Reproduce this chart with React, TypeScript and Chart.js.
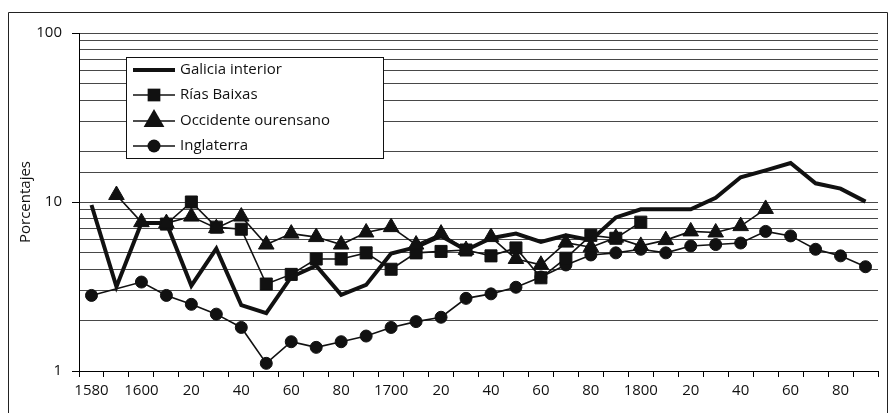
import React, { useEffect, useRef } from 'react';
import { Chart, registerables } from 'chart.js';

Chart.register(...registerables);

const years = [
  1580, 1590, 1600, 1610, 1620, 1630, 1640, 1650, 1660, 1670, 1680, 1690, 1700, 1710, 1720, 1730,
  1740, 1750, 1760, 1770, 1780, 1790, 1800, 1810, 1820, 1830, 1840, 1850, 1860, 1870, 1880, 1890,
];

const tickLabels = [
  '1580', '', '1600', '', '20', '', '40', '', '60', '', '80', '', '1700', '', '20', '',
  '40', '', '60', '', '80', '', '1800', '', '20', '', '40', '', '60', '', '80', '',
];

const yLabels = [1, 10, 100];

const galiciaInterior = [
  9.6, 3.15, 7.5, 7.5, 3.2, 5.3, 2.45, 2.2, 3.6, 4.2, 2.82, 3.23, 4.95, 5.4, 6.3, 5.2,
  6.1, 6.5, 5.8, 6.35, 5.95, 8.1, 9.05, 9.05, 9.05, 10.6, 14.0, 15.4, 17.0, 12.9, 12.0, 10.05,
];

const riasBaixas = [
  null, null, null, 7.4, 10.0, 7.1, 6.9, 3.27, 3.73, 4.6, 4.6, 5.0, 4.0, 5.0, 5.1, 5.2,
  4.8, 5.35, 3.56, 4.65, 6.35, 6.1, 7.6, null, null, null, null, null, null, null, null, null,
];

const occidenteOurensano = [
  null, 11.0, 7.6, 7.5, 8.2, 7.0, 8.2, 5.6, 6.5, 6.2, 5.6, 6.6, 7.1, 5.6, 6.5, 5.2,
  6.2, 4.6, 4.25, 5.75, 5.4, 6.15, 5.5, 5.95, 6.7, 6.6, 7.2, 9.1, null, null, null, null,
];

const inglaterra = [
  2.8, null, 3.36, 2.8, 2.48, 2.17, 1.81, 1.11, 1.49, 1.38, 1.49, 1.61, 1.81, 1.96, 2.08, 2.69,
  2.86, 3.13, 3.6, 4.24, 4.86, 5.0, 5.25, 5.0, 5.49, 5.6, 5.72, 6.7, 6.3, 5.25, 4.8, 4.14,
];

const FONT = '"Open Sans", sans-serif';
const INK = '#111';

function drawMarker(ctx: CanvasRenderingContext2D, style: string, x: number, y: number, r: number) {
  ctx.beginPath();
  if (style === 'rect') {
    const s = r * Math.SQRT1_2;
    ctx.rect(x - s, y - s, 2 * s, 2 * s);
  } else if (style === 'triangle') {
    let a = 0;
    ctx.moveTo(x + Math.sin(a) * r, y - Math.cos(a) * r);
    a += (2 * Math.PI) / 3;
    ctx.lineTo(x + Math.sin(a) * r, y - Math.cos(a) * r);
    a += (2 * Math.PI) / 3;
    ctx.lineTo(x + Math.sin(a) * r, y - Math.cos(a) * r);
    ctx.closePath();
  } else if (style === 'circle') {
    ctx.arc(x, y, r, 0, Math.PI * 2);
  }
  ctx.fill();
}

const framePlugin = {
  id: 'frame',
  afterDraw(chart: any) {
    const ctx = chart.ctx as CanvasRenderingContext2D;
    ctx.save();
    ctx.strokeStyle = '#222';
    ctx.lineWidth = 1;
    ctx.beginPath();
    ctx.moveTo(0.5, chart.height);
    ctx.lineTo(0.5, 4.5);
    ctx.lineTo(chart.width - 0.5, 4.5);
    ctx.lineTo(chart.width - 0.5, chart.height);
    ctx.stroke();
    ctx.restore();
  },
};

const boxLegendPlugin = {
  id: 'boxLegend',
  afterDraw(chart: any) {
    const ctx = chart.ctx as CanvasRenderingContext2D;
    const area = chart.chartArea;
    const left = area.left + 47;
    const top = area.top + 24;
    const w = 257;
    const h = 101;
    ctx.save();
    ctx.fillStyle = '#fff';
    ctx.fillRect(left, top, w, h);
    ctx.strokeStyle = INK;
    ctx.lineWidth = 1;
    ctx.strokeRect(left + 0.5, top + 0.5, w, h);
    const rows = [13, 38, 64, 89];
    const legendR: Record<string, number> = { rect: 9, triangle: 12, circle: 6.5 };
    chart.data.datasets.forEach((ds: any, i: number) => {
      const y = top + rows[i];
      ctx.strokeStyle = INK;
      ctx.fillStyle = INK;
      ctx.lineWidth = ds.borderWidth;
      ctx.beginPath();
      ctx.moveTo(left + 7, y);
      ctx.lineTo(left + 49, y);
      ctx.stroke();
      if (ds.pointRadius > 0) drawMarker(ctx, ds.pointStyle, left + 28, y, legendR[ds.pointStyle]);
      ctx.font = `15px ${FONT}`;
      ctx.textBaseline = 'middle';
      ctx.textAlign = 'left';
      ctx.fillText(ds.label, left + 54, y);
    });
    ctx.restore();
  },
};

export default function App() {
  const ref = useRef<HTMLCanvasElement>(null);

  useEffect(() => {
    if (!ref.current) return;
    const chart = new Chart(ref.current, {
      type: 'line',
      data: {
        labels: years,
        datasets: [
          {
            label: 'Galicia interior',
            data: galiciaInterior,
            borderColor: INK,
            backgroundColor: INK,
            borderWidth: 4,
            pointRadius: 0,
            pointStyle: 'circle',
            tension: 0,
            order: 1,
          },
          {
            label: 'Rías Baixas',
            data: riasBaixas,
            borderColor: INK,
            backgroundColor: INK,
            borderWidth: 1.6,
            pointStyle: 'rect',
            pointRadius: 8.5,
            pointBorderWidth: 1,
            tension: 0,
            order: 2,
          },
          {
            label: 'Occidente ourensano',
            data: occidenteOurensano,
            borderColor: INK,
            backgroundColor: INK,
            borderWidth: 1.6,
            pointStyle: 'triangle',
            pointRadius: 9,
            pointBorderWidth: 1,
            tension: 0,
            order: 0,
          },
          {
            label: 'Inglaterra',
            data: inglaterra,
            borderColor: INK,
            backgroundColor: INK,
            borderWidth: 1.6,
            pointStyle: 'circle',
            pointRadius: 6,
            pointBorderWidth: 1,
            tension: 0,
            spanGaps: true,
            order: 3,
          },
        ],
      },
      options: {
        responsive: false,
        animation: false,
        layout: { padding: { top: 25, right: 1, bottom: 0, left: 0 } },
        plugins: {
          legend: { display: false },
          tooltip: { enabled: false },
        },
        scales: {
          x: {
            type: 'category',
            offset: true,
            afterFit: (s: any) => {
              s.height = 42;
            },
            grid: {
              offset: true,
              drawOnChartArea: false,
              drawTicks: true,
              tickLength: 6,
              color: '#000',
            },
            border: { display: true, color: '#000', width: 1 },
            ticks: {
              autoSkip: false,
              maxRotation: 0,
              padding: 5,
              color: INK,
              font: { family: FONT, size: 15 },
              callback: (_v: any, i: number) => tickLabels[i],
            },
          },
          y: {
            type: 'logarithmic',
            min: 1,
            max: 100,
            afterFit: (s: any) => {
              s.width = 71;
            },
            title: {
              display: true,
              text: 'Porcentajes',
              color: INK,
              font: { family: FONT, size: 15 },
              padding: { top: 9, bottom: 0 },
            },
            grid: {
              color: '#484848',
              lineWidth: 1,
              tickLength: 7,
              tickColor: (c: any) => (yLabels.includes(c.tick?.value) ? '#000' : 'rgba(0,0,0,0)'),
            },
            border: { display: true, color: '#000', width: 1 },
            ticks: {
              autoSkip: false,
              padding: 10,
              color: INK,
              font: { family: FONT, size: 15 },
              callback: (v: any) => (yLabels.includes(Number(v)) ? String(v) : ''),
            },
          },
        },
      },
      plugins: [framePlugin, boxLegendPlugin],
    } as any);
    return () => chart.destroy();
  }, []);

  return <canvas ref={ref} width={880} height={405} style={{ display: 'block' }} />;
}
